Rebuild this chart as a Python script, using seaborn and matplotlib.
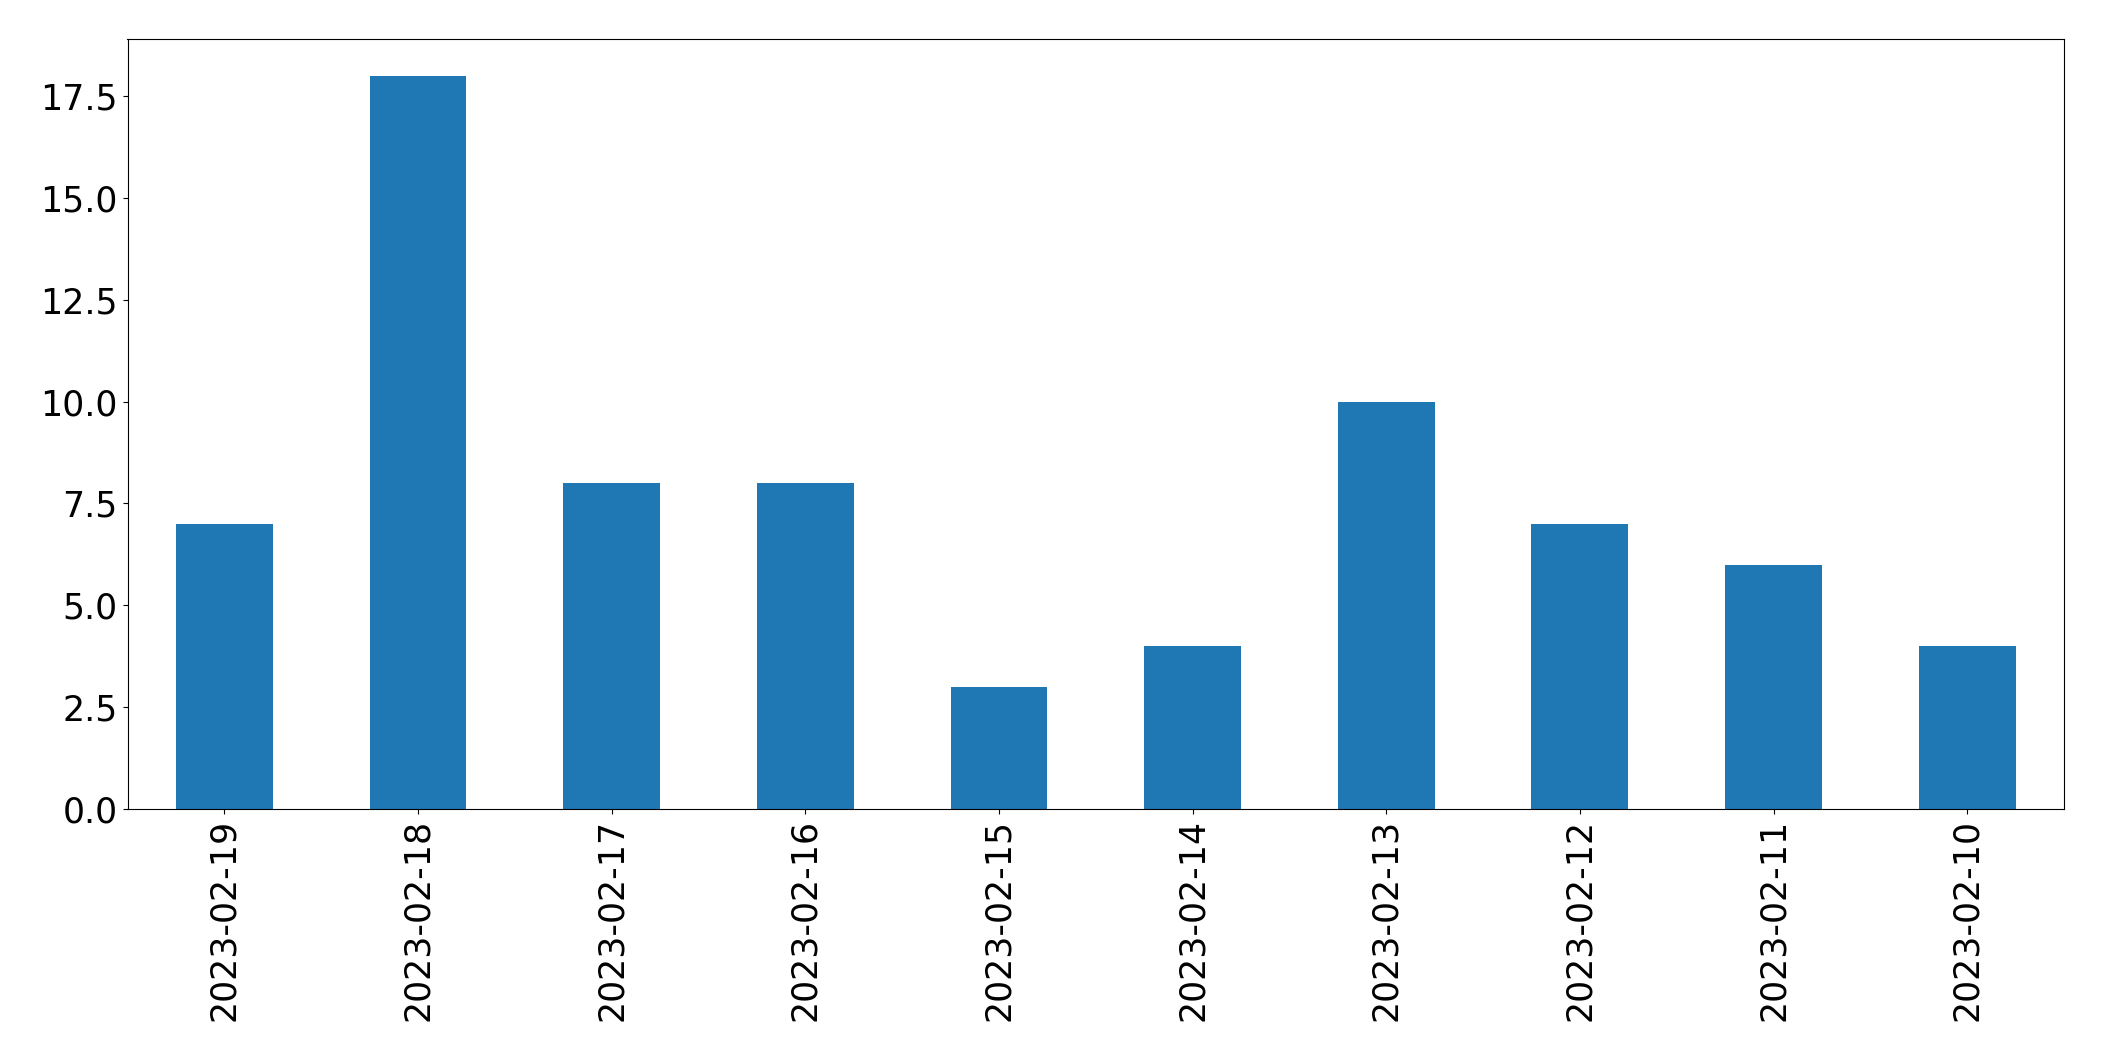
import matplotlib
matplotlib.use("Agg")
import matplotlib.pyplot as plt
import seaborn as sns
import pandas as pd

dates = ["2023-02-19", "2023-02-18", "2023-02-17", "2023-02-16", "2023-02-15",
         "2023-02-14", "2023-02-13", "2023-02-12", "2023-02-11", "2023-02-10"]
counts = [7, 18, 8, 8, 3, 4, 10, 7, 6, 4]

df = pd.DataFrame({"date": dates, "count": counts})

fig = plt.figure(figsize=(21.04, 10.61), dpi=100)
ax = fig.add_axes([127.5 / 2104, 1 - 809 / 1061, (2064 - 127.5) / 2104, (809 - 39) / 1061])
sns.barplot(data=df, x="date", y="count", order=dates, color="#1f77b4",
            saturation=1, width=0.5, ax=ax)
ax.set_xlim(-0.5, 9.5)
ax.set_xlabel("")
ax.set_ylabel("")
ax.tick_params(axis="both", labelsize=25)
ax.tick_params(axis="x", labelrotation=90)
for s in ax.spines.values():
    s.set_color("black")
fig.savefig("out.png", dpi=100)
